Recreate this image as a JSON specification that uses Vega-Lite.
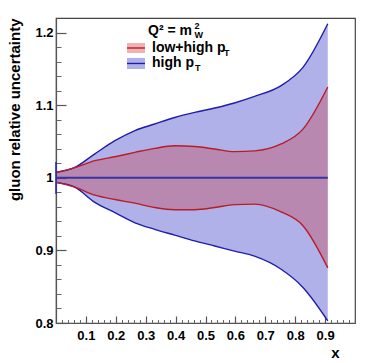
{
  "$schema": "https://vega.github.io/schema/vega-lite/v6.json",
  "width": 299,
  "height": 305,
  "autosize": {"type": "none"},
  "padding": {"left": 56, "top": 18, "right": 19, "bottom": 40},
  "background": "white",
  "config": {"view": {"stroke": "#444", "strokeWidth": 1.2}, "font": "Liberation Sans"},
  "datasets": {
    "bands": [
      {"x": 0.0, "blo": 0.9936, "bhi": 1.0074, "rlo": 0.9936, "rhi": 1.0074},
      {"x": 0.063, "blo": 0.987, "bhi": 1.0143, "rlo": 0.987, "rhi": 1.014},
      {"x": 0.13, "blo": 0.966, "bhi": 1.033, "rlo": 0.976, "rhi": 1.0235},
      {"x": 0.197, "blo": 0.952, "bhi": 1.051, "rlo": 0.970, "rhi": 1.029},
      {"x": 0.264, "blo": 0.938, "bhi": 1.065, "rlo": 0.965, "rhi": 1.035},
      {"x": 0.33, "blo": 0.929, "bhi": 1.074, "rlo": 0.959, "rhi": 1.0405},
      {"x": 0.397, "blo": 0.921, "bhi": 1.083, "rlo": 0.956, "rhi": 1.044},
      {"x": 0.464, "blo": 0.913, "bhi": 1.090, "rlo": 0.956, "rhi": 1.043},
      {"x": 0.531, "blo": 0.906, "bhi": 1.096, "rlo": 0.959, "rhi": 1.0396},
      {"x": 0.597, "blo": 0.899, "bhi": 1.103, "rlo": 0.963, "rhi": 1.036},
      {"x": 0.664, "blo": 0.892, "bhi": 1.112, "rlo": 0.9637, "rhi": 1.037},
      {"x": 0.753, "blo": 0.874, "bhi": 1.127, "rlo": 0.953, "rhi": 1.0465},
      {"x": 0.826, "blo": 0.849, "bhi": 1.152, "rlo": 0.934, "rhi": 1.067},
      {"x": 0.909, "blo": 0.803, "bhi": 1.212, "rlo": 0.876, "rhi": 1.125}
    ]
  },
  "data": {"name": "bands"},
  "layer": [
    {
      "mark": {"type": "area", "fill": "#3c3cc8", "fillOpacity": 0.4, "interpolate": "monotone"},
      "encoding": {
        "x": {
          "field": "x", "type": "quantitative",
          "scale": {"domain": [0, 1], "nice": false, "zero": false},
          "axis": {
            "orient": "bottom", "values": [0.1, 0.2, 0.3, 0.4, 0.5, 0.6, 0.7, 0.8, 0.9],
            "labelExpr": "'' + datum.value", "ticks": false, "grid": false,
            "domain": true, "domainColor": "#555", "domainWidth": 1.2,
            "labelFont": "Liberation Sans", "labelFontWeight": "bold", "labelFontSize": 13,
            "labelColor": "black", "labelPadding": 6, "labelFlush": false, "labelOverlap": false,
            "title": "x", "titleFont": "Liberation Sans", "titleFontWeight": "bold", "titleFontSize": 15,
            "titleColor": "black", "titleAlign": "right", "titleAnchor": "end",
            "titleX": 283, "titleY": 34, "titleBaseline": "alphabetic"
          }
        },
        "y": {
          "field": "blo", "type": "quantitative",
          "scale": {"domain": [0.8, 1.22], "nice": false, "zero": false},
          "axis": {
            "orient": "left", "values": [0.8, 0.9, 1, 1.1, 1.2],
            "labelExpr": "'' + datum.value", "ticks": false, "grid": false,
            "domain": true, "domainColor": "#555", "domainWidth": 1.2,
            "labelFont": "Liberation Sans", "labelFontWeight": "bold", "labelFontSize": 13,
            "labelColor": "black", "labelPadding": 3, "labelFlush": false, "labelOverlap": false,
            "title": "gluon relative uncertainty", "titleFont": "Liberation Sans",
            "titleFontWeight": "bold", "titleFontSize": 15, "titleColor": "black",
            "titleAngle": -90, "titleAlign": "right", "titleX": -36.5, "titleY": 0,
            "titleBaseline": "alphabetic"
          }
        },
        "y2": {"field": "bhi"}
      }
    },
    {
      "mark": {"type": "area", "fill": "#d02020", "fillOpacity": 0.28, "interpolate": "monotone"},
      "encoding": {
        "x": {
          "field": "x", "type": "quantitative",
          "axis": {
            "orient": "bottom", "values": [0.1, 0.2, 0.3, 0.4, 0.5, 0.6, 0.7, 0.8, 0.9],
            "labels": false, "domain": false, "grid": false, "ticks": true,
            "tickSize": -7, "tickColor": "#555", "tickWidth": 1.2, "title": null
          }
        },
        "y": {
          "field": "rlo", "type": "quantitative",
          "axis": {
            "orient": "left", "values": [0.8, 0.9, 1, 1.1, 1.2],
            "labels": false, "domain": false, "grid": false, "ticks": true,
            "tickSize": -10, "tickColor": "#555", "tickWidth": 1.2, "title": null
          }
        },
        "y2": {"field": "rhi"}
      }
    },
    {
      "mark": {"type": "line", "color": "#3434a4", "strokeWidth": 2},
      "encoding": {
        "x": {
          "field": "x", "type": "quantitative",
          "axis": {
            "orient": "bottom",
            "values": [0.02, 0.04, 0.06, 0.08, 0.12, 0.14, 0.16, 0.18, 0.22, 0.24, 0.26, 0.28, 0.32, 0.34, 0.36, 0.38, 0.42, 0.44, 0.46, 0.48, 0.52, 0.54, 0.56, 0.58, 0.62, 0.64, 0.66, 0.68, 0.72, 0.74, 0.76, 0.78, 0.82, 0.84, 0.86, 0.88, 0.92, 0.94, 0.96, 0.98],
            "labels": false, "domain": false, "grid": false, "ticks": true,
            "tickSize": -3.5, "tickColor": "#666", "tickWidth": 1, "title": null
          }
        },
        "y": {
          "datum": 1, "type": "quantitative",
          "axis": {
            "orient": "left",
            "values": [0.82, 0.84, 0.86, 0.88, 0.92, 0.94, 0.96, 0.98, 1.02, 1.04, 1.06, 1.08, 1.12, 1.14, 1.16, 1.18],
            "labels": false, "domain": false, "grid": false, "ticks": true,
            "tickSize": -5, "tickColor": "#666", "tickWidth": 1, "title": null
          }
        }
      }
    },
    {
      "mark": {"type": "line", "color": "#1e1eaa", "strokeWidth": 1.4, "interpolate": "monotone"},
      "encoding": {
        "x": {"field": "x", "type": "quantitative", "axis": null},
        "y": {"field": "bhi", "type": "quantitative", "axis": null}
      }
    },
    {
      "mark": {"type": "line", "color": "#1e1eaa", "strokeWidth": 1.4, "interpolate": "monotone"},
      "encoding": {
        "x": {"field": "x", "type": "quantitative", "axis": null},
        "y": {"field": "blo", "type": "quantitative", "axis": null}
      }
    },
    {
      "mark": {"type": "line", "color": "#b81c24", "strokeWidth": 1.4, "interpolate": "monotone"},
      "encoding": {
        "x": {"field": "x", "type": "quantitative", "axis": null},
        "y": {"field": "rhi", "type": "quantitative", "axis": null}
      }
    },
    {
      "mark": {"type": "line", "color": "#b81c24", "strokeWidth": 1.4, "interpolate": "monotone"},
      "encoding": {
        "x": {"field": "x", "type": "quantitative", "axis": null},
        "y": {"field": "rlo", "type": "quantitative", "axis": null}
      }
    },
    {
      "data": {"values": [{}]},
      "mark": {"type": "rule", "color": "#2a2ab0", "strokeWidth": 1.5},
      "encoding": {
        "x": {"datum": 0, "type": "quantitative", "axis": null},
        "y": {"datum": 0.9775, "type": "quantitative", "axis": null},
        "y2": {"datum": 1.0217}
      }
    },
    {
      "data": {"values": [{}]},
      "mark": {"type": "rect", "fill": "#d02020", "fillOpacity": 0.35},
      "encoding": {
        "x": {"datum": 0.2375, "type": "quantitative", "axis": null},
        "x2": {"datum": 0.2977},
        "y": {"datum": 1.1718, "type": "quantitative", "axis": null},
        "y2": {"datum": 1.1856}
      }
    },
    {
      "data": {"values": [{}]},
      "mark": {"type": "rule", "color": "#b81c24", "strokeWidth": 1.4},
      "encoding": {
        "x": {"datum": 0.2375, "type": "quantitative", "axis": null},
        "x2": {"datum": 0.2977},
        "y": {"datum": 1.1787, "type": "quantitative", "axis": null}
      }
    },
    {
      "data": {"values": [{}]},
      "mark": {"type": "rect", "fill": "#3c3cc8", "fillOpacity": 0.4},
      "encoding": {
        "x": {"datum": 0.2375, "type": "quantitative", "axis": null},
        "x2": {"datum": 0.2977},
        "y": {"datum": 1.1498, "type": "quantitative", "axis": null},
        "y2": {"datum": 1.165}
      }
    },
    {
      "data": {"values": [{}]},
      "mark": {"type": "rule", "color": "#1e1eaa", "strokeWidth": 1.4},
      "encoding": {
        "x": {"datum": 0.2375, "type": "quantitative", "axis": null},
        "x2": {"datum": 0.2977},
        "y": {"datum": 1.1574, "type": "quantitative", "axis": null}
      }
    },
    {
      "data": {"values": [{}]},
      "mark": {"type": "text", "font": "Liberation Sans", "fontWeight": "bold", "fontSize": 14, "align": "left", "baseline": "alphabetic", "color": "black"},
      "encoding": {
        "x": {"datum": 0.3077, "type": "quantitative", "axis": null},
        "y": {"datum": 1.1966, "type": "quantitative", "axis": null},
        "text": {"value": "Q² = m"}
      }
    },
    {
      "data": {"values": [{}]},
      "mark": {"type": "text", "font": "Liberation Sans", "fontWeight": "bold", "fontSize": 9, "align": "left", "baseline": "alphabetic", "color": "black"},
      "encoding": {
        "x": {"datum": 0.4632, "type": "quantitative", "axis": null},
        "y": {"datum": 1.2049, "type": "quantitative", "axis": null},
        "text": {"value": "2"}
      }
    },
    {
      "data": {"values": [{}]},
      "mark": {"type": "text", "font": "Liberation Sans", "fontWeight": "bold", "fontSize": 9, "align": "left", "baseline": "alphabetic", "color": "black"},
      "encoding": {
        "x": {"datum": 0.4632, "type": "quantitative", "axis": null},
        "y": {"datum": 1.1918, "type": "quantitative", "axis": null},
        "text": {"value": "W"}
      }
    },
    {
      "data": {"values": [{}]},
      "mark": {"type": "text", "font": "Liberation Sans", "fontWeight": "bold", "fontSize": 14, "align": "left", "baseline": "alphabetic", "color": "black"},
      "encoding": {
        "x": {"datum": 0.3211, "type": "quantitative", "axis": null},
        "y": {"datum": 1.1732, "type": "quantitative", "axis": null},
        "text": {"value": "low+high p"}
      }
    },
    {
      "data": {"values": [{}]},
      "mark": {"type": "text", "font": "Liberation Sans", "fontWeight": "bold", "fontSize": 9, "align": "left", "baseline": "alphabetic", "color": "black"},
      "encoding": {
        "x": {"datum": 0.5619, "type": "quantitative", "axis": null},
        "y": {"datum": 1.1677, "type": "quantitative", "axis": null},
        "text": {"value": "T"}
      }
    },
    {
      "data": {"values": [{}]},
      "mark": {"type": "text", "font": "Liberation Sans", "fontWeight": "bold", "fontSize": 14, "align": "left", "baseline": "alphabetic", "color": "black"},
      "encoding": {
        "x": {"datum": 0.3211, "type": "quantitative", "axis": null},
        "y": {"datum": 1.1525, "type": "quantitative", "axis": null},
        "text": {"value": "high p"}
      }
    },
    {
      "data": {"values": [{}]},
      "mark": {"type": "text", "font": "Liberation Sans", "fontWeight": "bold", "fontSize": 9, "align": "left", "baseline": "alphabetic", "color": "black"},
      "encoding": {
        "x": {"datum": 0.4649, "type": "quantitative", "axis": null},
        "y": {"datum": 1.147, "type": "quantitative", "axis": null},
        "text": {"value": "T"}
      }
    }
  ],
  "resolve": {"axis": {"x": "independent", "y": "independent"}}
}
